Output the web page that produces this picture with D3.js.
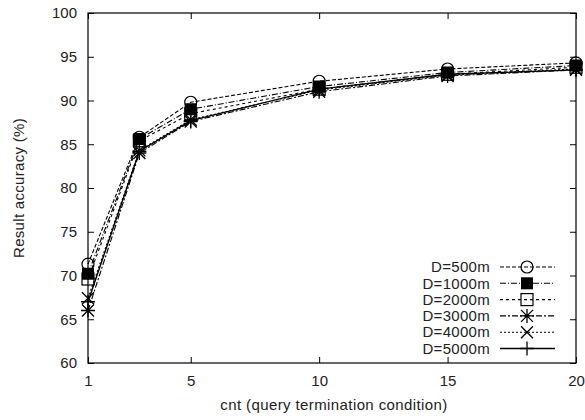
<!DOCTYPE html>
<html><head><meta charset="utf-8">
<script src="https://cdn.jsdelivr.net/npm/d3@7/dist/d3.min.js"></script>
<style>body{margin:0;background:#fff}svg{display:block}text{font-family:"Liberation Sans",Arial,sans-serif;fill:#222}</style>
</head><body><svg id="c" width="585" height="420"></svg>
<script>
const xValues = [1, 3, 5, 10, 15, 20];
const seriesNames = ["D=500m","D=1000m","D=2000m","D=3000m","D=4000m","D=5000m"];
const d500  = [71.3, 85.8, 89.8, 92.2, 93.6, 94.3];
const d1000 = [70.2, 85.6, 89.0, 91.6, 93.2, 94.0];
const d2000 = [69.6, 85.4, 88.5, 91.3, 93.0, 93.8];
const d3000 = [66.0, 84.0, 87.6, 91.0, 92.8, 93.5];
const d4000 = [67.4, 84.3, 87.8, 91.2, 92.9, 93.6];
const d5000 = [67.0, 84.2, 87.7, 91.3, 93.0, 93.5];
const xTicks = [1, 5, 10, 15, 20];
const yTicks = [60, 65, 70, 75, 80, 85, 90, 95, 100];

const series = [d500, d1000, d2000, d3000, d4000, d5000];
const markers = ["circle","square","opensquare","star","x","plus"];
const dashes = ["4,2","6,2,1,2","3,3","6,2,2,2","2,2",null];

const svg = d3.select("#c");
const L = 88, R = 576, T = 13, B = 363;
const FS = 15;
const x = d3.scaleLinear().domain([1, 20]).range([L, R]);
const y = d3.scaleLinear().domain([60, 100]).range([B, T]);

svg.append("rect").attr("x", L).attr("y", T).attr("width", R - L).attr("height", B - T)
  .attr("fill", "none").attr("stroke", "#000").attr("stroke-width", 1.2);

const tl = 6;
svg.append("g").attr("transform", `translate(0,${B})`)
  .call(d3.axisBottom(x).tickValues(xTicks).tickSize(-tl).tickPadding(12))
  .call(g => { g.select(".domain").remove(); g.selectAll("text").attr("font-size", FS).attr("fill", "#222"); });
svg.append("g").attr("transform", `translate(0,${T})`)
  .call(d3.axisTop(x).tickValues(xTicks).tickSize(-tl).tickFormat(""))
  .call(g => g.select(".domain").remove());
svg.append("g").attr("transform", `translate(${L},0)`)
  .call(d3.axisLeft(y).tickValues(yTicks).tickSize(-tl).tickPadding(11))
  .call(g => { g.select(".domain").remove(); g.selectAll("text").attr("font-size", FS).attr("fill", "#222"); });
svg.append("g").attr("transform", `translate(${R},0)`)
  .call(d3.axisRight(y).tickValues(yTicks).tickSize(-tl).tickFormat(""))
  .call(g => g.select(".domain").remove());

svg.append("text").attr("x", (L + R) / 2 + 2).attr("y", 410).attr("text-anchor", "middle")
  .attr("font-size", FS).attr("letter-spacing", 0.4).text("cnt (query termination condition)");
svg.append("text").attr("transform", `translate(24,${(T + B) / 2}) rotate(-90)`)
  .attr("text-anchor", "middle").attr("font-size", FS).attr("letter-spacing", 0.3).text("Result accuracy (%)");

function drawMarker(g, type, cx, cy) {
  const s = 6;
  if (type === "circle") g.append("circle").attr("cx", cx).attr("cy", cy).attr("r", s).attr("fill", "none").attr("stroke", "#000").attr("stroke-width", 1.2);
  else if (type === "square") g.append("rect").attr("x", cx - s).attr("y", cy - s).attr("width", 2 * s).attr("height", 2 * s).attr("fill", "#000");
  else if (type === "opensquare") g.append("rect").attr("x", cx - s).attr("y", cy - s).attr("width", 2 * s).attr("height", 2 * s).attr("fill", "none").attr("stroke", "#000").attr("stroke-width", 1.2);
  else {
    let p = "";
    if (type === "plus" || type === "star") p += `M${cx - s - 1},${cy}H${cx + s + 1}M${cx},${cy - s - 1}V${cy + s + 1}`;
    if (type === "x" || type === "star") p += `M${cx - s},${cy - s}L${cx + s},${cy + s}M${cx - s},${cy + s}L${cx + s},${cy - s}`;
    g.append("path").attr("d", p).attr("stroke", "#000").attr("stroke-width", 1.3).attr("fill", "none");
  }
}

const line = d3.line().x((d, i) => x(xValues[i])).y(d => y(d));
series.forEach((s, k) => {
  const g = svg.append("g");
  g.append("path").attr("d", line(s)).attr("fill", "none").attr("stroke", "#000")
    .attr("stroke-width", k === 5 ? 1.4 : 1.1).attr("stroke-dasharray", dashes[k]);
  s.forEach((v, i) => drawMarker(g, markers[k], x(xValues[i]), y(v)));
});

const lx = 490, ly0 = 267, dy = 16.3;
seriesNames.forEach((n, k) => {
  const yy = ly0 + k * dy;
  const g = svg.append("g");
  g.append("text").attr("x", lx).attr("y", yy).attr("dy", "0.35em").attr("text-anchor", "end")
    .attr("font-size", FS).attr("letter-spacing", 0.3).text(n);
  g.append("line").attr("x1", 500).attr("x2", 555).attr("y1", yy).attr("y2", yy)
    .attr("stroke", "#000").attr("stroke-width", k === 5 ? 1.4 : 1.1).attr("stroke-dasharray", dashes[k]);
  drawMarker(g, markers[k], 527, yy);
});
</script></body></html>
